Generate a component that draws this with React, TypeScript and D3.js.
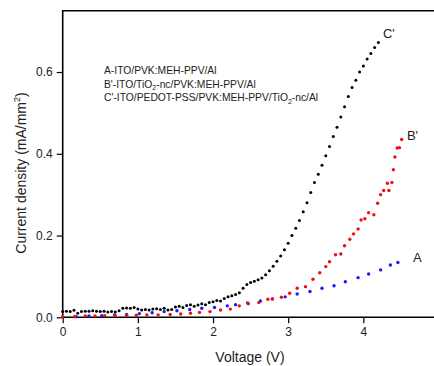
import React, { useEffect, useRef } from "react";
import * as d3 from "d3";

// voltage (V) / current density (mA/mm2)
const voltC = [0, 0.05, 0.1, 0.15, 0.2, 0.25, 0.3, 0.35, 0.4, 0.45, 0.5, 0.55, 0.6, 0.65, 0.7, 0.75, 0.8, 0.85, 0.9, 0.95,
  1.0, 1.05, 1.1, 1.15, 1.2, 1.25, 1.3, 1.35, 1.4, 1.45, 1.5, 1.55, 1.6, 1.65, 1.7, 1.75, 1.8, 1.85, 1.9, 1.95,
  2.0, 2.05, 2.1, 2.15, 2.2, 2.25, 2.3, 2.35, 2.4, 2.45, 2.5, 2.55, 2.6, 2.65, 2.7, 2.75, 2.8, 2.85, 2.9, 2.95,
  3.0, 3.05, 3.1, 3.15, 3.2, 3.25, 3.3, 3.35, 3.4, 3.45, 3.5, 3.55, 3.6, 3.65, 3.7, 3.75, 3.8, 3.85, 3.9, 3.95,
  4.0, 4.05, 4.1, 4.15, 4.2];
const curC = [0.014, 0.015, 0.014, 0.017, 0.01, 0.014, 0.015, 0.015, 0.016, 0.015, 0.014, 0.015, 0.013, 0.014, 0.013, 0.016, 0.022, 0.023, 0.022, 0.024,
  0.02, 0.018, 0.019, 0.018, 0.02, 0.021, 0.019, 0.022, 0.018, 0.019, 0.025, 0.027, 0.024, 0.029, 0.031, 0.027, 0.03, 0.033, 0.031, 0.036,
  0.038, 0.041, 0.04, 0.046, 0.05, 0.053, 0.056, 0.06, 0.071, 0.08, 0.085, 0.088, 0.092, 0.096, 0.104, 0.114, 0.125, 0.137, 0.15, 0.165,
  0.181, 0.2, 0.218, 0.237, 0.258, 0.28, 0.305, 0.33, 0.35, 0.372, 0.395, 0.418, 0.442, 0.465, 0.49, 0.515, 0.54, 0.562, 0.58, 0.6,
  0.615, 0.632, 0.645, 0.66, 0.672];

const voltB = [0, 0.16, 0.3, 0.43, 0.56, 0.7, 0.85, 0.98, 1.12, 1.27, 1.43, 1.57, 1.7, 1.82, 1.96, 2.1, 2.23, 2.35, 2.47, 2.61,
  2.73, 2.79, 2.91, 3.02, 3.12, 3.23, 3.33, 3.42, 3.5, 3.55, 3.63, 3.7, 3.75, 3.82, 3.87, 3.93, 3.97, 4.02, 4.07, 4.14,
  4.19, 4.23, 4.27, 4.32, 4.34, 4.38, 4.4, 4.42, 4.45, 4.48, 4.51];
const curB = [0.002, 0.002, 0.003, 0.003, 0.004, 0.004, 0.005, 0.005, 0.006, 0.006, 0.007, 0.008, 0.01, 0.012, 0.014, 0.018, 0.02, 0.028, 0.033, 0.036,
  0.044, 0.045, 0.049, 0.059, 0.071, 0.075, 0.093, 0.109, 0.124, 0.136, 0.153, 0.155, 0.175, 0.191, 0.204, 0.216, 0.238, 0.241, 0.256, 0.251,
  0.279, 0.3, 0.31, 0.328, 0.31, 0.33, 0.361, 0.392, 0.414, 0.415, 0.435];

const voltA = [0.18, 0.35, 0.52, 0.69, 0.85, 1.02, 1.19, 1.35, 1.52, 1.69, 1.85, 2.02, 2.19, 2.3, 2.46, 2.63, 2.79, 2.96,
  3.12, 3.29, 3.45, 3.61, 3.76, 3.93, 4.07, 4.23, 4.36, 4.46];
const curA = [0.0015, 0.003, 0.004, 0.006, 0.007, 0.009, 0.011, 0.014, 0.016, 0.019, 0.022, 0.024, 0.028, 0.031, 0.035, 0.04, 0.045, 0.05,
  0.057, 0.063, 0.071, 0.077, 0.087, 0.097, 0.106, 0.116, 0.128, 0.134];

const xTicks = [0, 1, 2, 3, 4];
const yTicks = [0, 0.2, 0.4, 0.6];
const legendLines = ["A-ITO/PVK:MEH-PPV/Al", "B'-ITO/TiO|2|-nc/PVK:MEH-PPV/Al", "C'-ITO/PEDOT-PSS/PVK:MEH-PPV/TiO|2|-nc/Al"];

const W = 434;
const H = 366;
const font = "Arial, 'Liberation Sans', sans-serif";

export default function App() {
  const svgRef = useRef<SVGSVGElement>(null);

  useEffect(() => {
    const svg = d3.select(svgRef.current);
    svg.selectAll("*").remove();

    const left = 62.7, top = 10.7, bottom = 317.3;
    const x = d3.scaleLinear().domain([0, 4.94]).range([left, W]);
    const y = d3.scaleLinear().domain([0, 0.75]).range([bottom, top]);
    const ink = "#222";

    // x axis
    const xAxis = svg.append("g").attr("transform", `translate(0,${bottom})`);
    xAxis.call(d3.axisBottom(x).tickValues(d3.range(0, 4.95, 0.5)).tickSize(3).tickFormat(() => ""));
    xAxis.call(d3.axisBottom(x).tickValues(xTicks).tickSize(6).tickPadding(4).tickFormat(d3.format("d")));
    xAxis.selectAll(".domain").remove();
    xAxis.selectAll("text").attr("font-size", 12).attr("font-family", font).attr("fill", ink);
    xAxis.selectAll("line").attr("stroke", "#000").attr("stroke-width", 1.2);

    const yAxis = svg.append("g").attr("transform", `translate(${left},0)`);
    yAxis.call(d3.axisLeft(y).tickValues(d3.range(0, 0.75, 0.1)).tickSize(3).tickFormat(() => ""));
    yAxis.call(d3.axisLeft(y).tickValues(yTicks).tickSize(6).tickPadding(4).tickFormat(d3.format(".1f")));
    yAxis.selectAll(".domain").remove();
    yAxis.selectAll("text").attr("font-size", 12).attr("font-family", font).attr("fill", ink);
    yAxis.selectAll("line").attr("stroke", "#000").attr("stroke-width", 1.2);

    // frame: left, bottom, top
    svg.append("path")
      .attr("d", `M${W},${top}H${left}V${bottom}H${W}`)
      .attr("fill", "none").attr("stroke", "#000").attr("stroke-width", 1.6);

    const dots = (xs: number[], ys: number[], color: string, r: number) => {
      svg.append("g").selectAll("circle")
        .data(xs)
        .join("circle")
        .attr("cx", (d) => x(d))
        .attr("cy", (d, i) => y(ys[i]))
        .attr("r", r)
        .attr("fill", color);
    };
    dots(voltC, curC, "#000", 1.5);
    dots(voltA, curA, "#1a1aff", 1.7);
    dots(voltB, curB, "#ee1111", 1.7);

    // curve labels
    const tag = (t: string, vx: number, vy: number) =>
      svg.append("text").attr("x", x(vx)).attr("y", y(vy)).text(t)
        .attr("font-family", font).attr("font-size", 13).attr("fill", ink);
    tag("C'", 4.26, 0.684);
    tag("B'", 4.58, 0.434);
    tag("A", 4.66, 0.136);

    // legend block
    legendLines.forEach((line, i) => {
      const t = svg.append("text").attr("x", 104).attr("y", 74 + i * 13.5)
        .attr("font-family", font).attr("font-size", 10.3).attr("fill", ink);
      line.split("|").forEach((part, j) => {
        const ts = t.append("tspan").text(part);
        if (j % 2 === 1) ts.attr("font-size", 7).attr("dy", 2.5);
        else if (j > 0) ts.attr("dy", -2.5);
      });
    });

    // axis titles
    svg.append("text").attr("x", 250).attr("y", 362).attr("text-anchor", "middle")
      .attr("font-family", font).attr("font-size", 14).attr("fill", ink).text("Voltage (V)");

    const yt = svg.append("text").attr("transform", "translate(26,173) rotate(-90)").attr("text-anchor", "middle")
      .attr("font-family", font).attr("font-size", 14).attr("fill", ink);
    yt.append("tspan").text("Current density (mA/mm");
    yt.append("tspan").text("2").attr("font-size", 9).attr("dy", -6);
    yt.append("tspan").text(")").attr("dy", 6);
  }, []);

  return (
    <svg ref={svgRef} width={W} height={H}
      style={{ position: "absolute", left: 0, top: 0, background: "#fff" }} />
  );
}
